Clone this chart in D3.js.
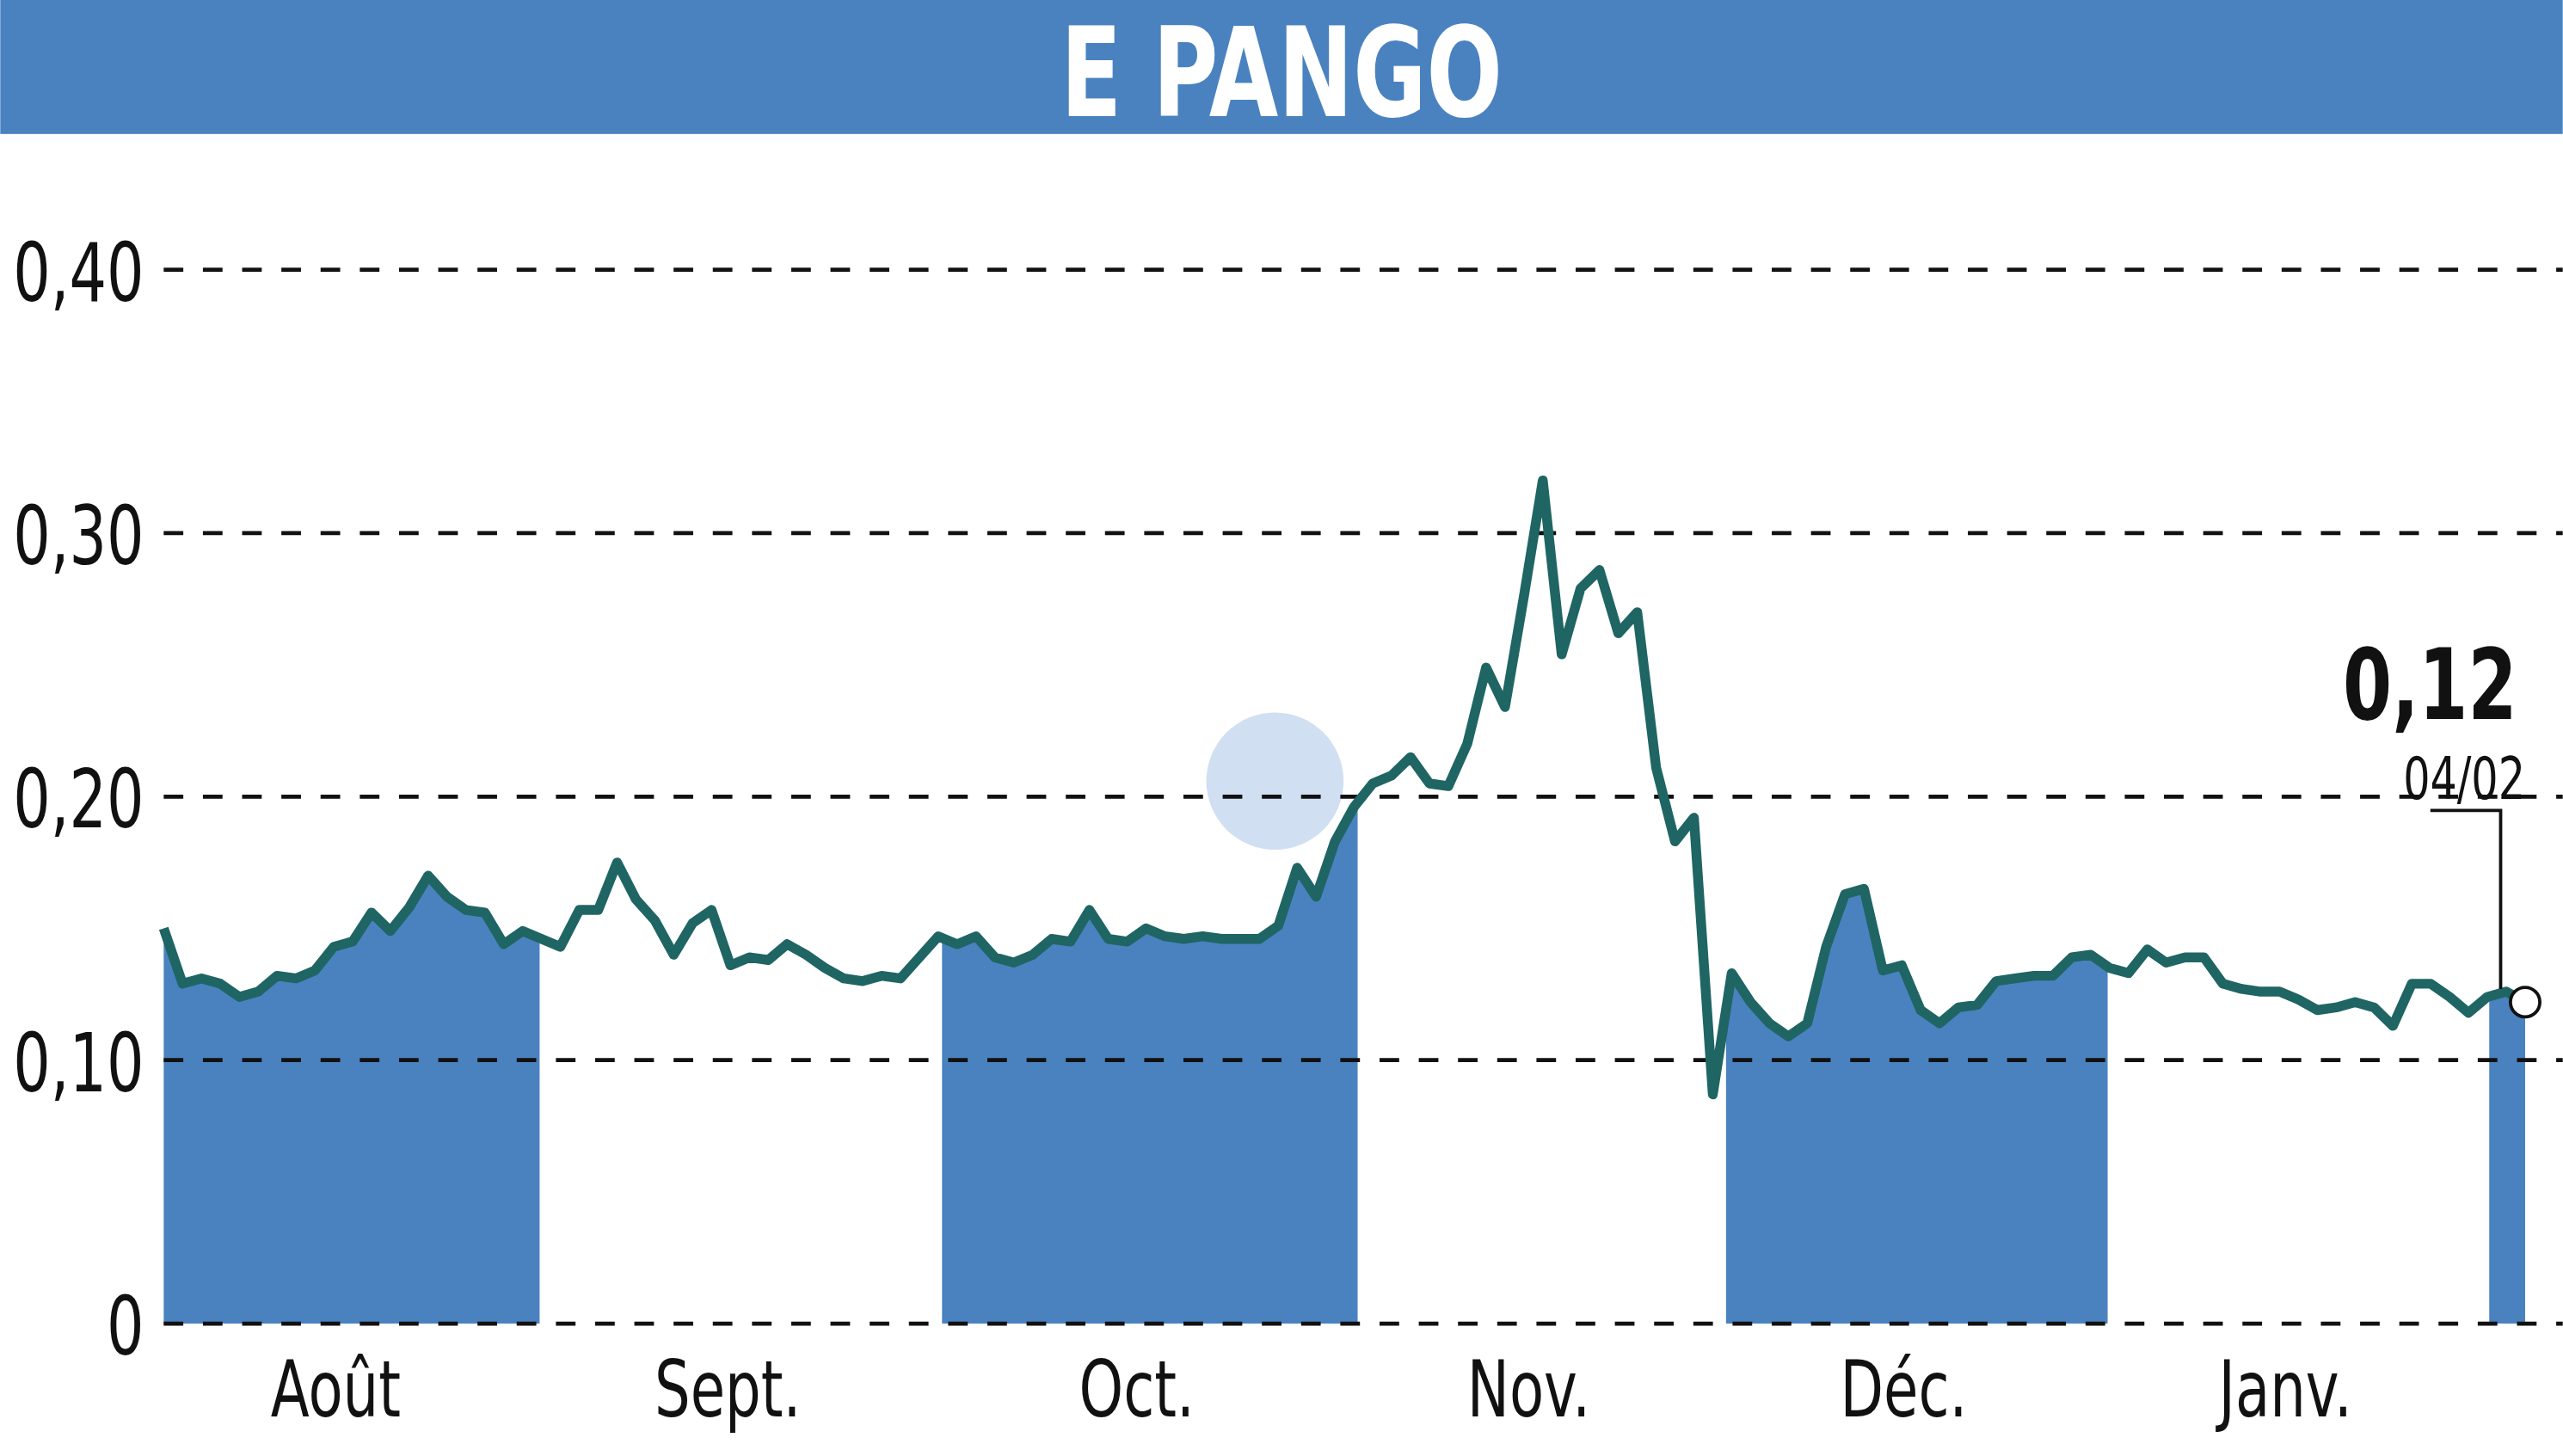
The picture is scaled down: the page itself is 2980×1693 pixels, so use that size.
<!DOCTYPE html>
<html><head><meta charset="utf-8">
<script src="https://cdn.jsdelivr.net/npm/d3@7"></script>
<style>body{margin:0;background:#fff}svg{display:block}
text{font-family:"DejaVu Sans Condensed","DejaVu Sans",sans-serif;font-stretch:condensed}</style>
</head><body>
<script>
const title = "E PANGO"
const prices = [0.150,0.129,0.131,0.129,0.124,0.126,0.132,0.131,0.134,0.143,0.145,0.156,0.149,0.158,0.170,0.162,0.157,0.156,0.144,0.149,
  0.146,0.143,0.157,0.157,0.175,0.161,0.153,0.140,0.152,0.157,0.136,0.139,0.138,0.144,0.140,0.135,0.131,0.130,0.132,0.131,
  0.139,0.147,0.144,0.147,0.139,0.137,0.140,0.146,0.145,0.157,0.146,0.145,0.150,0.147,0.146,0.147,0.146,0.146,0.146,0.151,
  0.173,0.162,0.183,0.196,0.205,0.208,0.215,0.205,0.204,0.220,0.249,0.234,0.276,0.320,0.254,0.279,0.286,0.262,0.270,0.211,
  0.183,0.192,0.087,0.133,0.122,0.114,0.109,0.114,0.143,0.163,0.165,0.134,0.136,0.119,0.114,0.120,0.121,0.130,0.131,0.132,
  0.132,0.139,0.140,0.135,0.133,0.142,0.137,0.139,0.139,0.129,0.127,0.126,0.126,0.123,0.119,0.120,0.122,0.120,0.113,0.129,
  0.129,0.124,0.118,0.124,0.126,0.122]
const months = ["Août","Sept.","Oct.","Nov.","Déc.","Janv.",""]
const monthStarts = [0,19.9,41.2,63.2,82.7,102.9,123.1]
const yTicks = [0,0.1,0.2,0.3,0.4]
const lastLabel = "0,12", lastDate = "04/02"

const W = 1568, H = 891
const svg = d3.select("body").append("svg").attr("width",2980).attr("height",1693).attr("viewBox",[0,0,W,H])
const x = d3.scaleLinear().domain([0,prices.length-1]).range([100,1545])
const y = d3.scaleLinear().domain([0,0.4]).range([810,165])
const fmt = d => d===0 ? "0" : d3.format(".2f")(d).replace(".",",")
const squeeze = (cx, k=0.8) => `translate(${cx},0) scale(${k},1) translate(${-cx},0)`

svg.append("rect").attr("width",W).attr("height",82).attr("fill","#4a82c0")
svg.append("text").attr("x",784).attr("y",71).attr("text-anchor","middle").attr("fill","#fff")
  .attr("font-weight","bold").attr("font-size",76).attr("transform",squeeze(784,0.8)).text(title)

// month bands
const ends = monthStarts.slice(1).concat([prices.length-1])
const bands = monthStarts.map((s,i)=>({s:i===0?-0.3:s,e:ends[i],name:months[i],i}))
const clip = svg.append("defs").append("clipPath").attr("id","shade")
clip.selectAll("rect").data(bands.filter(b=>b.i%2===0)).join("rect")
  .attr("x",d=>x(d.s)).attr("width",d=>x(d.e)-x(d.s)).attr("y",0).attr("height",H)

const area = d3.area().x((d,i)=>x(i)).y0(y(0)).y1(d=>y(d))
svg.append("path").datum(prices).attr("d",area).attr("fill","#4a82c0").attr("clip-path","url(#shade)")

// watermark
svg.append("circle").attr("cx",780).attr("cy",478).attr("r",42).attr("fill","#a9c4e8").attr("opacity",0.55)

// grid
svg.append("g").selectAll("line").data(yTicks).join("line")
  .attr("x1",100).attr("x2",W).attr("y1",d=>y(d)).attr("y2",d=>y(d))
  .attr("stroke","#111").attr("stroke-width",2.5).attr("stroke-dasharray","12,12")
svg.append("g").selectAll("text").data(yTicks).join("text")
  .attr("x",88).attr("y",d=>y(d)+19).attr("text-anchor","end").attr("font-size",50)
  .attr("transform",squeeze(88,0.8)).attr("fill","#111").text(fmt)
const mid = d => (x(d.s)+x(d.e))/2 - 8
svg.append("g").selectAll("text").data(bands.filter(b=>b.name)).join("text")
  .attr("x",mid).attr("y",867).attr("text-anchor","middle").attr("font-size",48).attr("fill","#111")
  .attr("transform",d=>squeeze(mid(d),0.8)).text(d=>d.name)

// line
svg.append("path").datum(prices).attr("d",d3.line().x((d,i)=>x(i)).y(d=>y(d)))
  .attr("fill","none").attr("stroke","#1f6563").attr("stroke-width",6).attr("stroke-linejoin","round")

// last value
const lx = x(prices.length-1), ly = y(prices[prices.length-1])
svg.append("path").attr("d",`M${lx-58},496H${lx-15}V${ly-8}`).attr("fill","none").attr("stroke","#111").attr("stroke-width",2)
svg.append("circle").attr("cx",lx).attr("cy",ly).attr("r",9).attr("fill","#fff").attr("stroke","#111").attr("stroke-width",2)
svg.append("text").attr("x",lx-5).attr("y",440).attr("text-anchor","end").attr("font-weight","bold").attr("font-size",60)
  .attr("transform",squeeze(lx-5,0.8)).attr("fill","#111").text(lastLabel)
svg.append("text").attr("x",lx).attr("y",489).attr("text-anchor","end").attr("font-size",36)
  .attr("transform",squeeze(lx,0.8)).attr("fill","#111").text(lastDate)
</script>
</body></html>
